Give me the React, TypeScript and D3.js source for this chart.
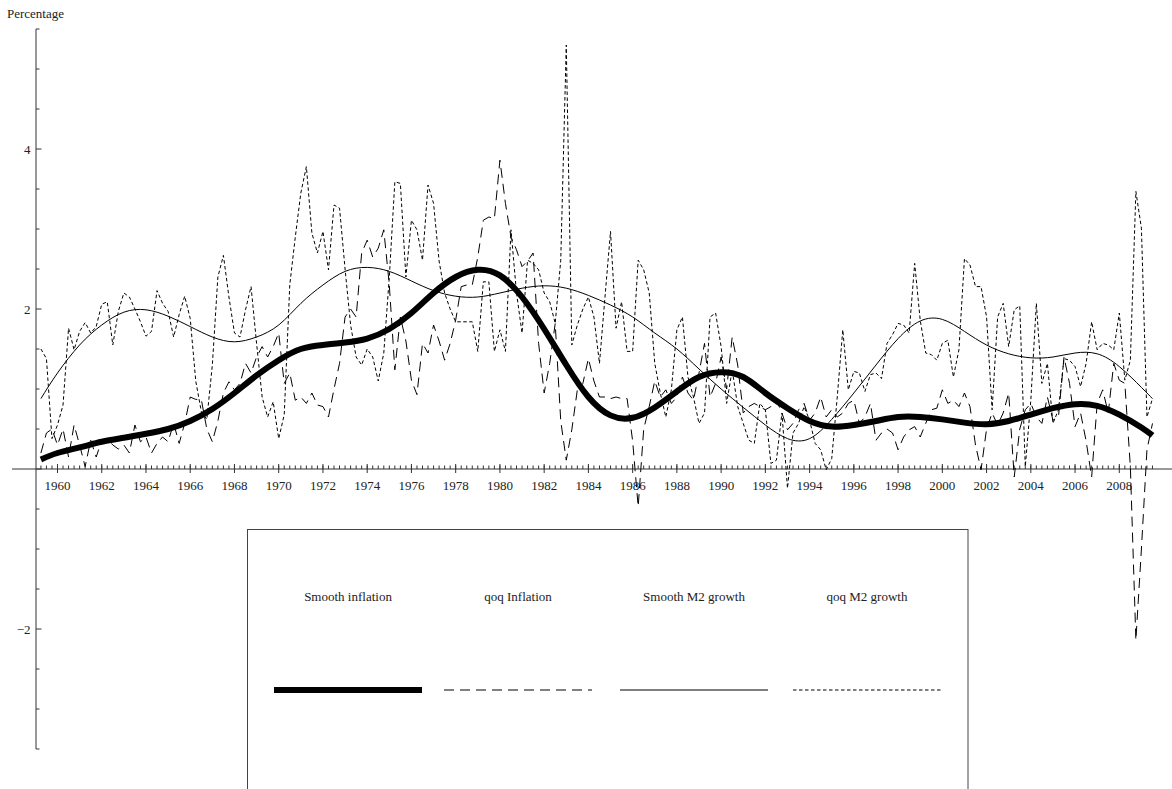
import React from 'react';
import * as d3 from 'd3';

// quarterly observations, first quarter = 1959.25, step 0.25 year
const START_YEAR = 1959.25;

const qoqInflation = [
  0.2, 0.45, 0.5, 0.3, 0.5, 0.15, 0.55, 0.3, 0.03, 0.36,
  0.15, 0.36, 0.38, 0.3, 0.25, 0.3, 0.2, 0.55, 0.34, 0.4,
  0.2, 0.32, 0.4, 0.34, 0.57, 0.32, 0.57, 0.9, 0.87, 0.87,
  0.5, 0.34, 0.6, 0.95, 1.09, 0.99, 1.07, 1.32, 1.2, 1.4,
  1.53, 1.4, 1.53, 1.7, 1.07, 1.2, 0.86, 0.9, 0.82, 0.95,
  0.8, 0.78, 0.65, 1.0, 1.32, 1.9, 2.0, 1.9, 2.7, 2.86,
  2.65, 2.76, 2.99, 2.3, 1.24, 1.9, 1.6, 1.11, 0.93, 1.57,
  1.45, 1.8, 1.6, 1.36, 1.57, 1.86, 2.28, 2.3, 2.3, 2.65,
  3.11, 3.15, 3.13, 3.86, 3.32, 2.9, 2.74, 2.53, 2.6, 2.7,
  1.57, 0.95, 1.32, 1.82, 0.6, 0.11, 0.49, 0.99, 1.07, 1.38,
  1.1, 0.9, 0.9, 0.88, 0.9, 0.88, 0.88, 0.35, -0.47, 0.5,
  0.78, 1.1, 0.9, 0.99, 0.82, 0.9, 1.15, 0.95, 0.86, 1.2,
  1.57, 0.9, 1.07, 1.4, 1.0, 1.65, 1.3, 0.7, 0.78, 0.82,
  0.78, 0.74, 0.78, 0.86, 0.7, 0.49, 0.57, 0.74, 0.82, 0.61,
  0.7, 0.9, 0.65, 0.74, 0.65, 0.7, 0.82, 0.86, 0.57, 0.65,
  0.82, 0.36, 0.45, 0.5, 0.45, 0.24, 0.4, 0.49, 0.53, 0.4,
  0.57, 0.74, 0.76, 0.99, 0.82, 0.86, 0.78, 0.95, 0.78, 0.3,
  -0.01, 0.5, 0.7, 0.55, 0.7, 0.95, -0.1, 0.5, 0.74, 0.82,
  0.65, 0.57, 0.9, 0.61, 0.65, 1.4, 1.07, 0.53, 0.7, 0.35,
  -0.1, 0.82, 0.99, 0.7, 1.32, 1.11, 1.07, 0.03, -2.14, -1.0,
  0.24, 0.57,
];

const qoqM2 = [
  1.5, 1.38, 0.38, 0.55, 0.8, 1.76, 1.49, 1.72, 1.83, 1.7,
  1.78, 2.06, 2.09, 1.55, 1.97, 2.2, 2.15, 2.0, 1.84, 1.66,
  1.72, 2.23, 2.07, 1.97, 1.65, 1.93, 2.16, 1.88, 1.1, 0.72,
  0.62, 1.3, 2.4, 2.67, 2.15, 1.7, 1.65, 1.99, 2.28, 1.57,
  0.9, 0.65, 0.84, 0.38, 0.68, 2.3, 2.9, 3.45, 3.78, 2.95,
  2.7, 2.97, 2.49, 3.3, 3.26, 2.5, 1.8, 1.4, 1.3, 1.5,
  1.4, 1.1, 1.45, 2.4, 3.59, 3.57, 2.4, 3.11, 2.99, 2.61,
  3.55, 3.32, 2.6, 2.2, 2.0, 1.84, 1.84, 1.84, 1.84, 1.47,
  2.34, 2.34, 1.47, 1.74, 1.47, 2.99, 2.2, 1.7, 2.61, 2.57,
  2.49, 2.2, 2.09, 1.82, 2.61, 5.3, 1.55, 1.8, 2.0, 2.15,
  1.9, 1.32, 2.15, 2.97, 1.76, 2.09, 1.47, 1.47, 2.61, 2.49,
  2.2, 1.32, 0.95, 0.65, 0.99, 1.74, 1.9, 1.15, 0.9, 0.57,
  0.7, 1.9, 1.95, 1.53, 0.82, 1.24, 0.78, 0.57, 0.36, 0.32,
  0.82, 0.74, 0.07, 0.11, 0.7, -0.24, 0.45, 0.57, 0.78, 0.61,
  0.32, 0.24, -0.01, 0.13, 0.9, 1.74, 0.99, 1.22, 1.2, 0.97,
  1.18, 1.2, 1.13, 1.57, 1.68, 1.82, 1.8, 1.7, 2.57, 1.86,
  1.45, 1.43, 1.36, 1.57, 1.61, 1.15, 1.49, 2.63, 2.55, 2.28,
  2.28, 1.9, 0.74, 1.9, 2.07, 1.53, 1.99, 2.04, 0.03, 0.86,
  2.07, 1.07, 1.32, 0.57, 0.74, 1.38, 1.36, 1.28, 1.03, 1.32,
  1.84, 1.49, 1.57, 1.55, 1.49, 1.95, 1.11, 1.36, 3.47, 3.01,
  0.65, 0.88,
];

// smooth trend readings (knots)
const smoothYears = [
  1959.25, 1960, 1961, 1962, 1963, 1964, 1965, 1966, 1967, 1968,
  1969, 1970, 1971, 1972, 1973, 1974, 1975, 1976, 1977, 1978,
  1979, 1980, 1981, 1982, 1983, 1984, 1985, 1986, 1987, 1988,
  1989, 1990, 1991, 1992, 1993, 1994, 1995, 1996, 1997, 1998,
  1999, 2000, 2001, 2002, 2003, 2004, 2005, 2006, 2007, 2008,
  2009, 2009.5,
];
const smoothInflation = [
  0.12, 0.2, 0.27, 0.34, 0.39, 0.44, 0.5, 0.6, 0.75, 0.95,
  1.17, 1.36, 1.5, 1.55, 1.58, 1.63, 1.75, 1.95, 2.2, 2.4,
  2.49, 2.42, 2.15, 1.75, 1.3, 0.9, 0.67, 0.64, 0.77, 0.97,
  1.15, 1.21, 1.15, 0.95, 0.76, 0.6, 0.53, 0.55, 0.6, 0.65,
  0.65, 0.62, 0.58, 0.56, 0.6, 0.68, 0.76, 0.81, 0.79, 0.68,
  0.52, 0.42,
];
const smoothM2 = [
  0.88, 1.2, 1.55, 1.8, 1.96, 1.99, 1.91, 1.78, 1.65, 1.59,
  1.65, 1.8, 2.07, 2.3, 2.47, 2.52, 2.47, 2.35, 2.23, 2.16,
  2.15, 2.2, 2.26, 2.29, 2.26, 2.17, 2.05, 1.9, 1.7, 1.5,
  1.25, 1.0, 0.77, 0.55, 0.38, 0.38, 0.62, 0.95, 1.3, 1.63,
  1.85, 1.87, 1.72, 1.55, 1.44, 1.39, 1.4, 1.45, 1.44, 1.28,
  1.02, 0.88,
];

const yearLabels = [
  1960, 1962, 1964, 1966, 1968, 1970, 1972, 1974, 1976, 1978, 1980, 1982, 1984,
  1986, 1988, 1990, 1992, 1994, 1996, 1998, 2000, 2002, 2004, 2006, 2008,
];
const yTickLabels = [-2, 2, 4];
const legendLabels = ['Smooth inflation', 'qoq Inflation', 'Smooth M2 growth', 'qoq M2 growth'];

const FONT = "'Liberation Serif', 'Times New Roman', serif";
const FS = 13;

export default function App() {
  const W = 1172;
  const H = 789;
  const x = d3.scaleLinear().domain([1960, 2008]).range([57.5, 1119.3]);
  const y = d3.scaleLinear().domain([-3.5, 5.5]).range([749, 29]);
  const axisX = 36;
  const axisY = y(0);

  const quarters = qoqInflation.map((_, i) => START_YEAR + 0.25 * i);
  const qLine = d3
    .line<number>()
    .x((_, i) => x(quarters[i]))
    .y((d) => y(d));
  const sLine = d3
    .line<number>()
    .x((_, i) => x(smoothYears[i]))
    .y((d) => y(d))
    .curve(d3.curveNatural);

  const yMinor = d3.range(-3.5, 5.5001, 0.5);

  const styles = [
    { w: 6, dash: undefined as string | undefined },
    { w: 1, dash: '10,6' },
    { w: 1, dash: undefined as string | undefined },
    { w: 1, dash: '3.5,2.5' },
  ];
  const legendCenters = [348, 518, 694, 867];

  return (
    <svg
      width={W}
      height={H}
      style={{ position: 'absolute', left: 0, top: 0, background: '#fff' }}
      fontFamily={FONT}
    >
      <rect x={0} y={0} width={W} height={H} fill="#fff" />
      {/* y axis */}
      <line x1={axisX} x2={axisX} y1={y(5.5)} y2={y(-3.5)} stroke="#333" strokeWidth={1} />
      {yMinor.map((v) => {
        const major = Math.abs(v - Math.round(v)) < 1e-6 && Math.round(v) % 2 === 0;
        return (
          <line
            key={'yt' + v}
            x1={axisX}
            x2={axisX + (major ? 5.5 : 3.5)}
            y1={y(v)}
            y2={y(v)}
            stroke="#333"
            strokeWidth={1}
          />
        );
      })}
      {yTickLabels.map((v) => (
        <text key={'yl' + v} x={30.5} y={y(v)} dy="0.35em" textAnchor="end" fontSize={FS} fill="#222">
          {v < 0 ? '\u2212' + Math.abs(v) : String(v)}
        </text>
      ))}
      <text x={7} y={18} fontSize={FS} fill="#222">
        Percentage
      </text>

      {/* x axis */}
      <line x1={12} x2={W} y1={axisY} y2={axisY} stroke="#333" strokeWidth={1} />
      {quarters.map((q) => (
        <line key={'xt' + q} x1={x(q)} x2={x(q)} y1={axisY - 3.5} y2={axisY} stroke="#333" strokeWidth={1} />
      ))}
      {yearLabels.map((yr) => (
        <g key={'xl' + yr}>
          <line x1={x(yr)} x2={x(yr)} y1={axisY - 5} y2={axisY + 4} stroke="#333" strokeWidth={1} />
          <text x={x(yr)} y={axisY + 20.5} textAnchor="middle" fontSize={FS} fill="#222">
            {yr}
          </text>
        </g>
      ))}

      {/* series */}
      <path d={qLine(qoqM2) || ''} fill="none" stroke="#000" strokeWidth={1} strokeDasharray="3.5,2.5" />
      <path d={qLine(qoqInflation) || ''} fill="none" stroke="#000" strokeWidth={1} strokeDasharray="10,6" />
      <path d={sLine(smoothM2) || ''} fill="none" stroke="#000" strokeWidth={1} />
      <path d={sLine(smoothInflation) || ''} fill="none" stroke="#000" strokeWidth={6} />

      {/* legend */}
      <rect x={247.5} y={529.5} width={720.5} height={300} fill="#fff" stroke="#444" strokeWidth={1} />
      {legendLabels.map((lab, i) => (
        <g key={lab}>
          <text x={legendCenters[i]} y={601} textAnchor="middle" fontSize={FS} fill="#222">
            {lab}
          </text>
          <line
            x1={legendCenters[i] - 74}
            x2={legendCenters[i] + 74}
            y1={690}
            y2={690}
            stroke="#000"
            strokeWidth={styles[i].w}
            strokeDasharray={styles[i].dash}
          />
        </g>
      ))}
    </svg>
  );
}
